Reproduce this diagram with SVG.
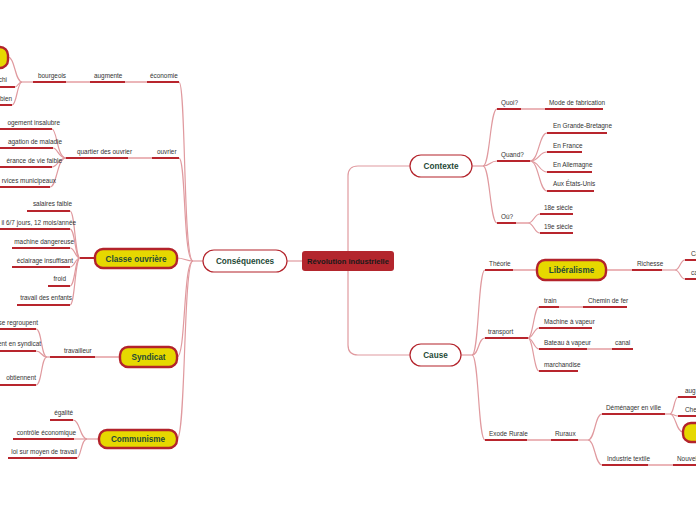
<svg xmlns="http://www.w3.org/2000/svg" width="696" height="520" viewBox="0 0 696 520">
<style>
.u{stroke:#b8252d;stroke-width:2;fill:none}
.c{stroke:#e09a9f;stroke-width:1.2;fill:none}
.l{stroke:#ebb5b8;stroke-width:2;fill:none}
.d{stroke:#b8252d;stroke-width:2;fill:none}
.t{font-family:"Liberation Sans",Arial,sans-serif;font-size:6.4px;fill:#333}
.e{text-anchor:end}
.yn{fill:#e6d800;stroke:#b3232b;stroke-width:2.4}
.wn{fill:#fff;stroke:#b3232b;stroke-width:1.2}
.nt{font-family:"Liberation Sans",Arial,sans-serif;font-weight:bold;font-size:8.2px;fill:#1f4a37;text-anchor:middle}
</style>
<rect width="696" height="520" fill="#fff"/>
<g id="connectors">
<path class="c" d="M348,251 L348,176 Q348,166 358,166 L410,166"/>
<path class="c" d="M348,271 L348,345 Q348,355 358,355 L410,355"/>
<path class="c" d="M287,261 L302,261"/>
<!-- consequences trunk -->
<path class="c" d="M203,261 L193,261"/>
<path class="c" d="M193,261 C183,261 186,82 179,82"/>
<path class="c" d="M193,261 C183,261 186,158 179,158"/>
<path class="c" d="M193,261 C186,261 184,258 177,258"/>
<path class="c" d="M193,261 C183,261 186,357 177,357"/>
<path class="c" d="M193,261 C183,261 186,439 177,439"/>
<!-- economie chain -->
<path class="l" d="M125,82 L147,82"/>
<path class="l" d="M66,82 L90,82"/>
<path class="c" d="M33,82 L22,82"/>
<path class="c" d="M22,82 C15,82 15,57 8,57"/>
<path class="c" d="M22,82 C18,82 18,87 15,87"/>
<path class="c" d="M22,82 C17,82 17,105 12,105"/>
<!-- ouvrier -->
<path class="l" d="M128,158 L152,158"/>
<path class="c" d="M66,158 C57,158 57,129 52,129"/>
<path class="c" d="M66,158 C58,158 58,148 53,148"/>
<path class="c" d="M66,158 C58,158 58,167 52,167"/>
<path class="c" d="M66,158 C57,158 57,187 50,187"/>
<!-- classe ouvriere -->
<path class="d" d="M95,258 L80,258"/>
<path class="c" d="M80,258 C75,258 75,211 70,211"/>
<path class="c" d="M80,258 C75,258 75,229 70,229"/>
<path class="c" d="M80,258 C75,258 75,248 70,248"/>
<path class="c" d="M80,258 C75,258 75,267 70,267"/>
<path class="c" d="M80,258 C75,258 75,286 70,286"/>
<path class="c" d="M80,258 C75,258 75,305 70,305"/>
<!-- syndicat -->
<path class="l" d="M95,357 L120,357"/>
<path class="c" d="M50,357 L47,357"/>
<path class="c" d="M47,357 C41,357 42,329 36,329"/>
<path class="c" d="M47,357 C41,357 42,351 36,351"/>
<path class="c" d="M47,357 C41,357 42,385 36,385"/>
<!-- communisme -->
<path class="c" d="M99,439 L87,439"/>
<path class="c" d="M87,439 C80,439 80,420 73,420"/>
<path class="c" d="M87,439 L74,439"/>
<path class="c" d="M87,439 C81,439 81,458 77,458"/>
<!-- contexte -->
<path class="c" d="M472,166 L483,166"/>
<path class="c" d="M483,166 C490,166 490,109 497,109"/>
<path class="c" d="M483,166 C490,166 490,161 497,161"/>
<path class="c" d="M483,166 C490,166 490,223 497,223"/>
<path class="l" d="M521,109 L545,109"/>
<path class="c" d="M530,161 C539,161 539,133 547,133"/>
<path class="c" d="M530,161 C539,161 539,152 547,152"/>
<path class="c" d="M530,161 C539,161 539,172 547,172"/>
<path class="c" d="M530,161 C539,161 539,191 547,191"/>
<path class="l" d="M516,223 L528,223"/>
<path class="c" d="M528,223 C534,223 534,214 540,214"/>
<path class="c" d="M528,223 C534,223 534,233 540,233"/>
<!-- cause -->
<path class="c" d="M461,355 L472,355"/>
<path class="c" d="M472,355 C479,355 478,270 485,270"/>
<path class="c" d="M472,355 C479,355 478,338 485,338"/>
<path class="c" d="M472,355 C479,355 478,440 485,440"/>
<path class="l" d="M513,270 L537,270"/>
<path class="l" d="M606,270 L632,270"/>
<path class="c" d="M662,270 L675,270"/>
<path class="c" d="M675,270 C680,270 680,260 685,260"/>
<path class="c" d="M675,270 C680,270 680,279 685,279"/>
<path class="c" d="M528,338 C533,338 534,307 539,307"/>
<path class="c" d="M528,338 C533,338 534,328 539,328"/>
<path class="c" d="M528,338 C533,338 534,349 539,349"/>
<path class="c" d="M528,338 C533,338 534,371 539,371"/>
<path class="l" d="M559,307 L583,307"/>
<path class="l" d="M587,349 L612,349"/>
<path class="l" d="M527,440 L551,440"/>
<path class="c" d="M578,440 L588,440"/>
<path class="c" d="M588,440 C595,440 595,414 602,414"/>
<path class="c" d="M588,440 C595,440 595,465 602,465"/>
<path class="c" d="M665,414 L670,414"/>
<path class="c" d="M670,414 C674,414 674,397 678,397"/>
<path class="c" d="M670,414 C674,414 674,416 678,416"/>
<path class="c" d="M670,414 C676,414 676,432 683,432"/>
<path class="l" d="M648,465 L673,465"/>
</g>
<g id="n-root"><rect x="302" y="251" width="92" height="20" rx="3" fill="#b3262d"/><text x="348" y="264" font-family="Liberation Sans, Arial, sans-serif" font-weight="bold" font-size="7.6" fill="#1a1a1a" text-anchor="middle">Révolution industrielle</text></g>
<g id="n-consequences"><rect class="wn" x="203" y="250" width="84" height="22" rx="11"/><text class="nt" x="245" y="264">Conséquences</text></g>
<g id="n-contexte"><rect class="wn" x="410" y="155" width="62" height="22" rx="11"/><text class="nt" x="441" y="169">Contexte</text></g>
<g id="n-cause"><rect class="wn" x="410" y="344" width="51" height="22" rx="11"/><text class="nt" x="435.5" y="358">Cause</text></g>
<g id="n-yellow-left"><rect class="yn" x="-60" y="47" width="68" height="21" rx="8"/></g>
<g id="n-classe"><rect class="yn" x="95" y="249" width="82" height="19" rx="8"/><text class="nt" x="136" y="261.5">Classe ouvrière</text></g>
<g id="n-syndicat"><rect class="yn" x="120" y="347" width="57" height="20" rx="8"/><text class="nt" x="148.5" y="360">Syndicat</text></g>
<g id="n-communisme"><rect class="yn" x="99" y="430" width="78" height="18" rx="8"/><text class="nt" x="138" y="442">Communisme</text></g>
<g id="n-liberalisme"><rect class="yn" x="537" y="260" width="69" height="20" rx="8"/><text class="nt" x="571.5" y="273">Libéralisme</text></g>
<g id="n-yellow-right"><rect class="yn" x="683" y="423" width="50" height="19" rx="8"/></g>
<!-- left small nodes -->
<g id="n-economie"><path class="u" d="M147,82 L179,82"/><text class="t" x="150" y="78">économie</text></g>
<g id="n-augmente"><path class="u" d="M90,82 L125,82"/><text class="t" x="94" y="78">augmente</text></g>
<g id="n-bourgeois"><path class="u" d="M33,82 L66,82"/><text class="t" x="38" y="78">bourgeois</text></g>
<g id="n-chi"><path class="u" d="M0,87 L15,87"/><text class="t e" x="7" y="82">chi</text></g>
<g id="n-bien"><path class="u" d="M0,105 L12,105"/><text class="t e" x="12" y="101">bien</text></g>
<g id="n-ouvrier"><path class="u" d="M152,158 L179,158"/><text class="t" x="157" y="154">ouvrier</text></g>
<g id="n-quartier"><path class="u" d="M66,158 L128,158"/><text class="t" x="77" y="154">quartier des ouvrier</text></g>
<g id="n-logement"><path class="u" d="M0,129 L52,129"/><text class="t e" x="60" y="125">ogement insalubre</text></g>
<g id="n-propagation"><path class="u" d="M0,148 L53,148"/><text class="t e" x="62" y="144">agation de maladie</text></g>
<g id="n-esperance"><path class="u" d="M0,167 L52,167"/><text class="t e" x="62" y="163">érance de vie faible</text></g>
<g id="n-services"><path class="u" d="M0,187 L50,187"/><text class="t e" x="56" y="183">rvices municipeaux</text></g>
<g id="n-salaires"><path class="u" d="M27,211 L70,211"/><text class="t e" x="72" y="206">salaires faible</text></g>
<g id="n-travail67"><path class="u" d="M0,229 L70,229"/><text class="t e" x="76" y="225">il  6/7 jours, 12 mois/année</text></g>
<g id="n-machine"><path class="u" d="M12,248 L70,248"/><text class="t e" x="74" y="244">machine dangereuse</text></g>
<g id="n-eclairage"><path class="u" d="M12,267 L70,267"/><text class="t e" x="73" y="263">éclairage insuffisant</text></g>
<g id="n-froid"><path class="u" d="M48,286 L70,286"/><text class="t e" x="66" y="281">froid</text></g>
<g id="n-enfants"><path class="u" d="M17,305 L70,305"/><text class="t e" x="72" y="300">travail des enfants</text></g>
<g id="n-travailleur"><path class="u" d="M50,357 L95,357"/><text class="t" x="64" y="353">travailleur</text></g>
<g id="n-regroupent"><path class="u" d="M0,329 L36,329"/><text class="t e" x="38" y="325">se regroupent</text></g>
<g id="n-ensyndicat"><path class="u" d="M0,351 L36,351"/><text class="t e" x="41" y="346">ent en syndicat</text></g>
<g id="n-obtiennent"><path class="u" d="M0,385 L36,385"/><text class="t e" x="36" y="380">obtiennent</text></g>
<g id="n-egalite"><path class="u" d="M50,420 L73,420"/><text class="t e" x="73" y="415">égalité</text></g>
<g id="n-controle"><path class="u" d="M13,439 L74,439"/><text class="t e" x="76" y="435">contrôle économique</text></g>
<g id="n-loi"><path class="u" d="M8,458 L77,458"/><text class="t e" x="77" y="454">loi sur moyen de travail</text></g>
<!-- right small nodes -->
<g id="n-quoi"><path class="u" d="M497,109 L521,109"/><text class="t" x="501" y="105">Quoi?</text></g>
<g id="n-mode"><path class="u" d="M545,109 L603,109"/><text class="t" x="549" y="105">Mode de fabrication</text></g>
<g id="n-quand"><path class="u" d="M497,161 L530,161"/><text class="t" x="501" y="157">Quand?</text></g>
<g id="n-gb"><path class="u" d="M547,133 L607,133"/><text class="t" x="553" y="128">En Grande-Bretagne</text></g>
<g id="n-fr"><path class="u" d="M547,152 L582,152"/><text class="t" x="553" y="148">En France</text></g>
<g id="n-de"><path class="u" d="M547,172 L592,172"/><text class="t" x="553" y="167">En Allemagne</text></g>
<g id="n-us"><path class="u" d="M547,191 L594,191"/><text class="t" x="553" y="186">Aux États-Unis</text></g>
<g id="n-ou"><path class="u" d="M497,223 L516,223"/><text class="t" x="501" y="219">Où?</text></g>
<g id="n-18"><path class="u" d="M540,214 L573,214"/><text class="t" x="544" y="210">18e siècle</text></g>
<g id="n-19"><path class="u" d="M540,233 L573,233"/><text class="t" x="544" y="229">19e siècle</text></g>
<g id="n-theorie"><path class="u" d="M485,270 L513,270"/><text class="t" x="489" y="266">Théorie</text></g>
<g id="n-richesse"><path class="u" d="M632,270 L662,270"/><text class="t" x="637" y="266">Richesse</text></g>
<g id="n-Ca"><path class="u" d="M685,260 L696,260"/><text class="t" x="691" y="256">Ca</text></g>
<g id="n-ca"><path class="u" d="M685,279 L696,279"/><text class="t" x="691" y="275">ca</text></g>
<g id="n-transport"><path class="u" d="M485,338 L528,338"/><text class="t" x="488" y="334">transport</text></g>
<g id="n-train"><path class="u" d="M539,307 L559,307"/><text class="t" x="544" y="303">train</text></g>
<g id="n-chemin"><path class="u" d="M583,307 L627,307"/><text class="t" x="588" y="303">Chemin de fer</text></g>
<g id="n-machinevap"><path class="u" d="M539,328 L592,328"/><text class="t" x="544" y="324">Machine à vapeur</text></g>
<g id="n-bateau"><path class="u" d="M539,349 L587,349"/><text class="t" x="544" y="345">Bateau à vapeur</text></g>
<g id="n-canal"><path class="u" d="M612,349 L633,349"/><text class="t" x="615" y="345">canal</text></g>
<g id="n-marchandise"><path class="u" d="M539,371 L578,371"/><text class="t" x="544" y="367">marchandise</text></g>
<g id="n-exode"><path class="u" d="M485,440 L527,440"/><text class="t" x="489" y="436">Exode Rurale</text></g>
<g id="n-ruraux"><path class="u" d="M551,440 L578,440"/><text class="t" x="555" y="436">Ruraux</text></g>
<g id="n-demenager"><path class="u" d="M602,414 L665,414"/><text class="t" x="606" y="410">Déménager en ville</text></g>
<g id="n-aug"><path class="u" d="M678,397 L696,397"/><text class="t" x="685" y="393">aug</text></g>
<g id="n-che"><path class="u" d="M678,416 L696,416"/><text class="t" x="685" y="412">Che</text></g>
<g id="n-textile"><path class="u" d="M602,465 L648,465"/><text class="t" x="607" y="461">Industrie textile</text></g>
<g id="n-nouvel"><path class="u" d="M673,465 L696,465"/><text class="t" x="677" y="461">Nouvel</text></g>
</svg>
